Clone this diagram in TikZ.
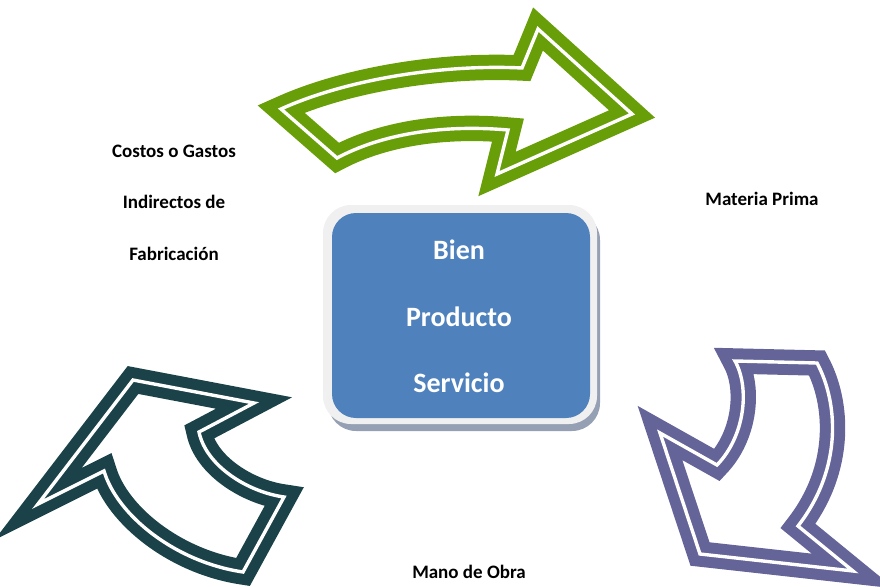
\documentclass[tikz,border=0pt]{standalone}
\usepackage{fontspec}
\setmainfont{Carlito}
\definecolor{cifgreen}{RGB}{104, 158, 8}
\definecolor{mpurple}{RGB}{100, 100, 152}
\definecolor{moteal}{RGB}{26, 66, 72}
\definecolor{boxblue}{RGB}{79, 129, 189}
\definecolor{boxframe}{RGB}{240, 240, 240}
\definecolor{boxshadow}{RGB}{150, 160, 180}

\begin{document}
\begin{tikzpicture}[x=1pt, y=-1pt,
	flecha/.style={line width=11pt, double=white, double distance=3.4pt, line join=miter, miter limit=20},
	etiqueta/.style={font=\bfseries\fontsize{19}{21}\selectfont, anchor=base},
	caja/.style={font=\bfseries\fontsize{28}{30}\selectfont, text=white, anchor=base}]
	\useasboundingbox (0,0) rectangle (880,586);
	% caja central
	\fill [boxshadow, rounded corners=28] (328,212) rectangle (600,431);
	\fill [boxframe, rounded corners=28] (323,205) rectangle (597,424);
	\fill [boxblue, rounded corners=24] (332,213) rectangle (590,418);
	\node [caja] (bien) at (459,259) {Bien};
	\node [caja] (producto) at (459,326) {Producto};
	\node [caja] (servicio) at (459,392) {Servicio};
	% flechas
	\draw [flecha, draw=cifgreen] (281,109) .. controls (345,80) and (440,64) .. (522,68)
		-- (538,29) -- (632,114) -- (497,174) -- (508,130)
		.. controls (440,124) and (380,135) .. (337,158) -- cycle;
	\draw [flecha, draw=mpurple] (735,361) -- (817,363)
		.. controls (838,402) and (843,468) .. (798,526)
		-- (853,571) -- (700,554) -- (660,433) -- (717,465)
		.. controls (745,436) and (750,388) .. (735,361) -- cycle;
	\draw [flecha, draw=moteal] (133,380) -- (254,403) -- (199,432)
		.. controls (206,466) and (248,492) .. (284,497)
		-- (243,572) .. controls (175,562) and (117,515) .. (104,471)
		-- (38,504) -- cycle;
	% etiquetas
	\node [etiqueta] (costos) at (174,157) {Costos o Gastos};
	\node [etiqueta] (indirectos) at (174,208) {Indirectos de};
	\node [etiqueta] (fabricacion) at (174,260) {Fabricación};
	\node [etiqueta] (materia) at (762,205) {Materia Prima};
	\node [etiqueta] (mano) at (469,578) {Mano de Obra};
\end{tikzpicture}
\end{document}
